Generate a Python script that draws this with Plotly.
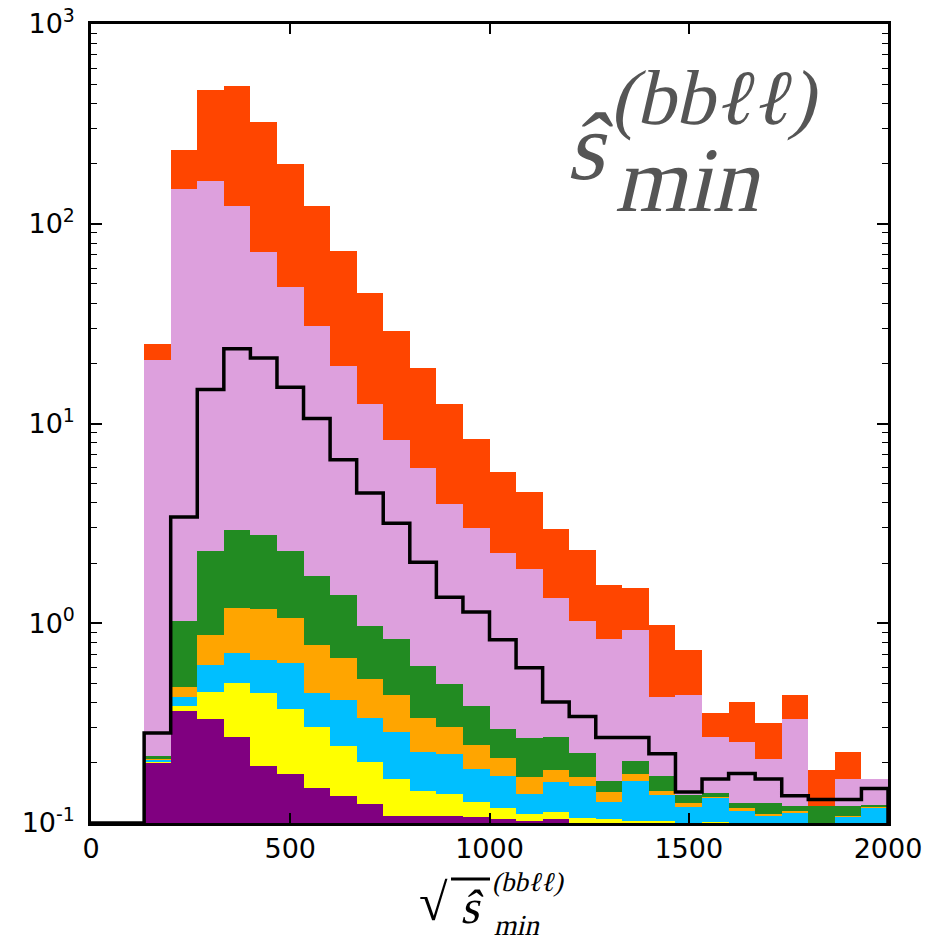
import numpy as np
import plotly.graph_objects as go

# ---------------- data (30 bins, 0..2000) ----------------
bin_edges = np.linspace(0, 2000, 31)

purple = [0, 0, .199, .364, .330, .268, .194, .175, .149, .137, .124, .108, .108, .108, .107,
          .105, .102, .105, .090, .080, .080, .080, .080, .080, .080, .080, .080, .080, .080, .080]
yellow = [0, 0, .004, .020, .122, .235, .256, .196, .152, .106, .078, .058, .037, .031, .021,
          .014, .009, .0085, .016, .025, .022, .022, .015, .021, .015, .015, .015, .010, .015, .015]
cyan = [0, 0, .003, .041, .167, .208, .203, .264, .146, .169, .133, .120, .081, .082, .058,
        .053, .029, .0475, .047, .023, .060, .036, .025, .032, .020, .014, .0176, .005, .012, .0235]
orange = [0, 0, .003, .053, .256, .479, .527, .425, .333, .256, .192, .149, .110, .080, .059,
          .040, .030, .023, .017, .015, .014, .007, .0055, .002, .0035, .002, .0022, .004, .001, .0022]
green = [0, 0, .008, .552, 1.425, 1.75, 1.60, 1.23, .95, .722, .447, .401, .278, .195, .140,
         .084, .096, .087, .054, .019, .029, .027, .0125, .006, .0075, .0145, .0072, .022, .014, .0023]
plum = [0, 0, 20.48, 149.0, 160.7, 119.1, 69.8, 46.2, 29.2, 18.1, 11.6, 7.46, 5.40, 3.48, 2.60,
        1.94, 1.60, 1.06, .806, .674, .722, .256, .300, .129, .129, .0835, .210, .001, .044, .043]
red = [0, 0, 4.4, 83, 306, 365, 251.4, 151.5, 91.1, 53.9, 32.6, 20.6, 12.9, 8.6, 5.38,
       3.47, 2.67, 1.64, 1.31, .724, .573, .549, .298, .085, .149, .107, .106, .062, .062, 0]
signal = [0, 0, .282, 3.40, 14.8, 23.7, 21.3, 15.2, 10.6, 6.59, 4.49, 3.17, 2.02, 1.35, 1.14,
          .826, .598, .404, .341, .268, .268, .222, .143, .166, .177, .166, .137, .131, .131, .149]

layers = [  # bottom -> top
    ("purple", purple, "#800080"),
    ("yellow", yellow, "#FFFF00"),
    ("cyan", cyan, "#00BFFF"),
    ("orange", orange, "#FFA500"),
    ("green", green, "#228B22"),
    ("plum", plum, "#DDA0DD"),
    ("red", red, "#FF4500"),
]

YMIN, YMAX = 0.1, 1000.0
centers = 0.5 * (bin_edges[:-1] + bin_edges[1:])
width = bin_edges[1] - bin_edges[0]

fig = go.Figure()

cum = np.cumsum([np.array(v, dtype=float) for _, v, _ in layers], axis=0)
for i in range(len(layers) - 1, -1, -1):
    name, _, col = layers[i]
    tops = cum[i]
    fig.add_trace(go.Bar(
        x=centers, y=np.where(tops > 0, tops, np.nan), width=width,
        marker=dict(color=col, line=dict(width=0)), name=name, showlegend=False,
    ))

# signal step line
sig = np.maximum(np.array(signal, dtype=float), YMIN)
xs = np.concatenate([bin_edges, [bin_edges[-1]]])
ys = np.concatenate([sig, [sig[-1], YMIN]])
fig.add_trace(go.Scatter(x=xs, y=ys, mode="lines", line=dict(color="black", width=3.5, shape="hv"),
                         showlegend=False))

L, R, T, B = 91, 42, 24, 123
W, H = 930, 946
pw, ph = W - L - R, H - T - B


def px(x):
    return (x - L) / pw


def py(y):
    return (H - B - y) / ph


tickfont = dict(family="DejaVu Sans", size=27, color="black")
fig.update_layout(
    width=W, height=H, margin=dict(l=L, r=R, t=T, b=B, autoexpand=False),
    paper_bgcolor="white", plot_bgcolor="white",
    barmode="overlay", bargap=0, showlegend=False,
    xaxis=dict(range=[0, 2000], tickvals=[0, 500, 1000, 1500, 2000], ticks="inside", ticklen=10,
               tickwidth=1.5, tickcolor="black", showline=True, linecolor="black", linewidth=2.5,
               mirror="allticks", showgrid=False, zeroline=False, tickfont=tickfont,
               automargin=False, ticklabelstandoff=0),
    yaxis=dict(type="log", range=[-1, 3], tickmode="array",
               tickvals=[0.1, 1, 10, 100, 1000],
               ticktext=["10<sup>-1</sup>", "10<sup>0</sup>", "10<sup>1</sup>", "10<sup>2</sup>", "10<sup>3</sup>"],
               ticks="inside", ticklen=11, tickwidth=1.5, tickcolor="black",
               minor=dict(tickmode="array",
                          tickvals=[m * 10.0 ** e for e in range(-1, 3) for m in range(2, 10)],
                          ticks="inside", ticklen=6, tickwidth=1.2, tickcolor="black", showgrid=False),
               showline=True, linecolor="black", linewidth=2.5, mirror="allticks",
               showgrid=False, zeroline=False, tickfont=tickfont, ticklabelstandoff=8,
               automargin=False),
)

grey = "#555555"
serif = "Liberation Serif"
ann = [
    ("ŝ", 592, 146, 96),
    ("(bbℓℓ)", 718, 98, 78),
    ("min", 693, 180, 92),
]
for txt, x, y, s in ann:
    fig.add_annotation(text=txt, x=px(x), y=py(y), xref="paper", yref="paper", showarrow=False,
                       xanchor="center", yanchor="middle",
                       font=dict(family=serif, size=s, color=grey))

# x-axis label: sqrt(s_hat_min^(bbll))
xl = [
    ("√", 433, 902, 52),
    ("ŝ", 473, 906, 48),
    ("(bbℓℓ)", 529, 882, 27),
    ("min", 519, 925, 29),
]
for txt, x, y, s in xl:
    fig.add_annotation(text=txt, x=px(x), y=py(y), xref="paper", yref="paper", showarrow=False,
                       xanchor="center", yanchor="middle",
                       font=dict(family=serif, size=s, color="black"))
fig.add_shape(type="line", xref="paper", yref="paper", x0=px(451), x1=px(490), y0=py(879), y1=py(879),
              line=dict(color="black", width=3))

post = """
document.body.style.margin='0';document.body.style.overflow='hidden';
document.querySelectorAll('text.annotation-text').forEach(function(t){
  if (t.textContent.indexOf('\\u221a') < 0) {
    t.style.transformBox = 'fill-box';
    t.style.transformOrigin = 'center';
    t.style.transform = 'skewX(-13deg)';
  }
});
"""
fig.write_html("out.html", config={"displayModeBar": False}, post_script=post)
